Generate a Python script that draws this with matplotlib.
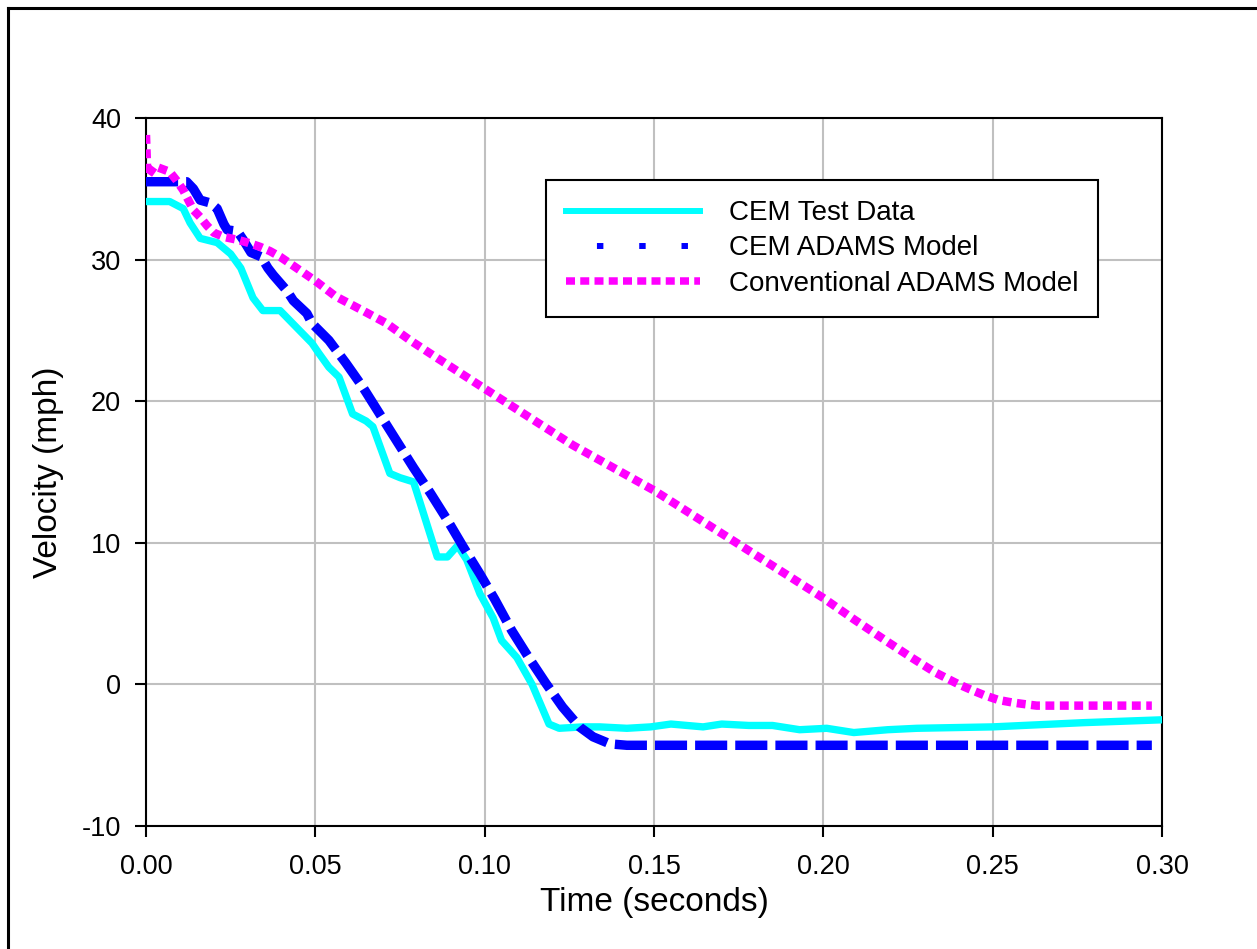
import matplotlib
matplotlib.use("Agg")
import matplotlib.pyplot as plt
from matplotlib.lines import Line2D

plt.rcParams['font.family'] = ['Liberation Sans', 'DejaVu Sans']
plt.rcParams['axes.unicode_minus'] = False

# CEM test data (cyan)
test_t = [0, 0.007, 0.011, 0.013, 0.016, 0.021, 0.025, 0.028, 0.0316, 0.0345,
          0.0396, 0.0445, 0.049, 0.051, 0.054, 0.057, 0.061, 0.065, 0.067, 0.072,
          0.075, 0.079, 0.086, 0.089, 0.092, 0.0947, 0.0986, 0.1025, 0.105, 0.1095,
          0.114, 0.119, 0.122, 0.129, 0.134, 0.142, 0.149, 0.155, 0.1645, 0.170,
          0.178, 0.185, 0.193, 0.201, 0.209, 0.219, 0.2276, 0.250, 0.277, 0.30]
test_v = [34.1, 34.1, 33.6, 32.6, 31.5, 31.2, 30.4, 29.4, 27.3, 26.4,
          26.4, 25.2, 24.1, 23.4, 22.4, 21.7, 19.1, 18.6, 18.2, 14.9,
          14.6, 14.3, 9.0, 9.0, 9.8, 8.8, 6.4, 4.7, 3.1, 1.9,
          0.0, -2.8, -3.1, -3.0, -3.0, -3.1, -3.0, -2.8, -3.0, -2.8,
          -2.9, -2.9, -3.2, -3.1, -3.4, -3.2, -3.1, -3.0, -2.7, -2.5]

# CEM ADAMS model (blue dashed)
cem_t = [0, 0.012, 0.014, 0.016, 0.019, 0.021, 0.023, 0.024, 0.027, 0.0287,
         0.031, 0.034, 0.036, 0.0376, 0.0416, 0.0435, 0.0475, 0.049, 0.054, 0.059,
         0.064, 0.069, 0.074, 0.079, 0.084, 0.089, 0.0937, 0.0986, 0.1030, 0.108,
         0.113, 0.118, 0.123, 0.128, 0.132, 0.137, 0.142, 0.20, 0.297]
cem_v = [35.5, 35.5, 35.0, 34.2, 34.0, 33.6, 32.5, 32.1, 32.0, 31.4,
         30.5, 30.2, 29.4, 28.9, 27.8, 27.1, 26.2, 25.5, 24.3, 22.7,
         21.0, 19.1, 17.2, 15.3, 13.5, 11.6, 9.7, 7.8, 6.0, 3.8,
         1.9, 0.1, -1.6, -3.0, -3.7, -4.2, -4.3, -4.3, -4.3]

# Conventional ADAMS model (magenta dotted)
conv_t = [0, 0.0004, 0.0025, 0.007, 0.009, 0.011, 0.0125, 0.014, 0.016, 0.018,
          0.020, 0.023, 0.027, 0.030, 0.0337, 0.0366, 0.0396, 0.0445, 0.050, 0.056,
          0.064, 0.071, 0.078, 0.085, 0.0986, 0.126, 0.15, 0.20, 0.209, 0.219,
          0.226, 0.233, 0.240, 0.244, 0.2477, 0.2517, 0.2556, 0.2596, 0.263, 0.268,
          0.297]
conv_v = [38.8, 35.9, 36.6, 36.2, 35.6, 34.9, 34.2, 33.5, 33.0, 32.4,
          31.9, 31.6, 31.4, 31.2, 30.9, 30.6, 30.2, 29.4, 28.5, 27.4,
          26.4, 25.5, 24.3, 23.2, 21.1, 16.9, 13.7, 6.1, 4.6, 3.0,
          1.9, 0.85, 0.0, -0.42, -0.78, -1.1, -1.27, -1.4, -1.5, -1.5,
          -1.5]

x_ticks = [0.00, 0.05, 0.10, 0.15, 0.20, 0.25, 0.30]
y_ticks = [-10, 0, 10, 20, 30, 40]
labels = ['CEM Test Data', 'CEM ADAMS Model', 'Conventional ADAMS Model']

fig = plt.figure(figsize=(12.57, 9.49), dpi=100)
ax = fig.add_axes([146 / 1257, 1 - 826 / 949, 1016 / 1257, 708 / 949])

ax.plot(test_t, test_v, color='#00FFFF', lw=5.3, solid_joinstyle='round',
        solid_capstyle='round', zorder=3)
ax.plot(cem_t, cem_v, color='#0000FF', lw=6.8, linestyle=(0, (3.4, 0.85)),
        dash_capstyle='butt', zorder=4)
ax.plot(conv_t, conv_v, color='#FF00FF', lw=6.1, linestyle=(0, (1.05, 0.65)),
        dash_capstyle='butt', zorder=5)

ax.set_xlim(0, 0.30)
ax.set_ylim(-10, 40)
ax.set_xticks(x_ticks)
ax.set_xticklabels([f'{v:.2f}' for v in x_ticks])
ax.set_yticks(y_ticks)
ax.grid(True, color='#c0c0c0', lw=1.5, zorder=0)
ax.set_axisbelow(True)
for s in ax.spines.values():
    s.set_linewidth(1.5)
    s.set_color('black')
ax.tick_params(axis='both', direction='out', length=8, width=1.5, labelsize=19.5)
ax.tick_params(axis='x', pad=12)
ax.tick_params(axis='y', pad=10)
ax.set_xlabel('Time (seconds)', fontsize=24, labelpad=5)
ax.set_ylabel('Velocity (mph)', fontsize=24, labelpad=13)

# legend uses its own sample styles, as in the original
handles = [
    Line2D([], [], color='#00FFFF', lw=4.3),
    Line2D([], [], color='#0000FF', lw=4.3, linestyle=(1.9, (1.08, 6.0)), dash_capstyle='butt'),
    Line2D([], [], color='#FF00FF', lw=5.4, linestyle=(0, (1.2, 0.7)), dash_capstyle='butt'),
]
leg = ax.legend(handles, labels, loc='upper left', bbox_to_anchor=(0.394, 0.912),
                fontsize=20, handlelength=4.8, handletextpad=1.05, labelspacing=0.33,
                borderpad=0.72, borderaxespad=0, fancybox=False, framealpha=1,
                edgecolor='black')
leg.get_frame().set_linewidth(1.5)

# outer frame around the figure
fig.add_artist(Line2D([8 / 1257, 8 / 1257], [0, 1 - 8 / 949], transform=fig.transFigure,
                      color='black', lw=2.2))
fig.add_artist(Line2D([8 / 1257, 1], [1 - 8 / 949, 1 - 8 / 949], transform=fig.transFigure,
                      color='black', lw=2.2))

fig.savefig('out.png', dpi=100)
